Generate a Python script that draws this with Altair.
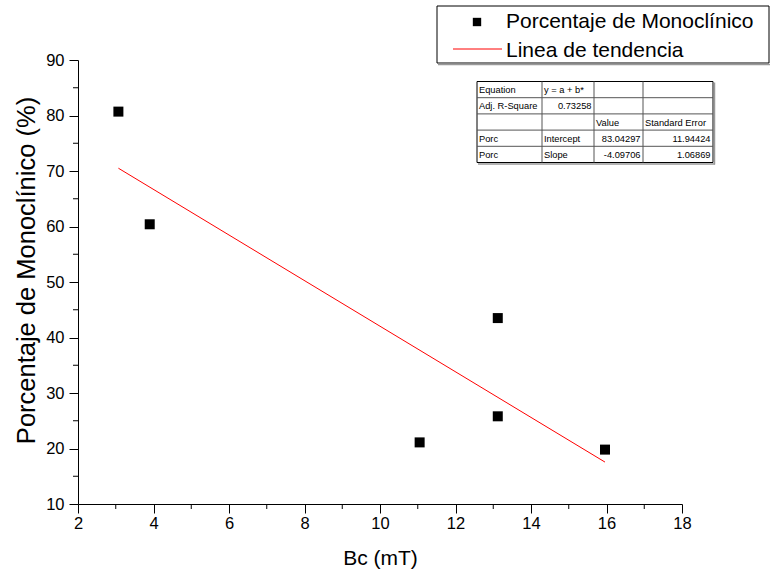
import altair as alt
import pandas as pd

# ---------------- data ----------------
bc_mT = [3.07, 3.90, 11.05, 13.12, 13.12, 15.96]
porc_mono = [80.7, 60.4, 21.1, 43.5, 25.8, 19.8]

x_major = [2, 4, 6, 8, 10, 12, 14, 16, 18]
x_minor = [3, 5, 7, 9, 11, 13, 15, 17]
y_major = [10, 20, 30, 40, 50, 60, 70, 80, 90]
y_minor = [15, 25, 35, 45, 55, 65, 75, 85]

legend_labels = ["Porcentaje de Monoclínico", "Linea de tendencia"]

table_cells = [
    ["Equation", "y = a + b*", "", ""],
    ["Adj. R-Square", "0.73258", "", ""],
    ["", "", "Value", "Standard Error"],
    ["Porc", "Intercept", "83.04297", "11.94424"],
    ["Porc", "Slope", "-4.09706", "1.06869"],
]

# ---------------- layout ----------------
FONT = "Liberation Sans"
OX, OY = 78, 60          # plot origin on the page
W, H = 604, 444          # plot size

def px(v):
    return v - OX

def py(v):
    return v - OY

df = pd.DataFrame({"bc": bc_mT, "porc": porc_mono})

xscale = alt.Scale(domain=[2, 18], nice=False, zero=False)
yscale = alt.Scale(domain=[10, 90], nice=False, zero=False)

xaxis = alt.Axis(
    values=x_major, tickSize=9, tickColor="black", domainColor="black",
    labelColor="black", labelFontSize=16.5, labelFont=FONT, labelPadding=2,
    grid=False, title="Bc (mT)", titleFont=FONT, titleFontSize=21,
    titleFontWeight="normal", titleColor="black", titleBaseline="alphabetic",
    titleY=60, titleX=W / 2, titleAlign="center", labelFlush=False)
yaxis = alt.Axis(
    values=y_major, tickSize=9, tickColor="black", domainColor="black",
    labelColor="black", labelFontSize=16.5, labelFont=FONT, labelPadding=5,
    grid=False, title="Porcentaje de Monoclínico (%)", titleFont=FONT,
    titleFontSize=25.5, titleFontWeight="normal", titleColor="black",
    titleBaseline="alphabetic", titleX=-44, titleY=210, titleAngle=-90,
    titleAlign="center", labelFlush=False)

X = alt.X("bc:Q", scale=xscale, axis=xaxis)
Y = alt.Y("porc:Q", scale=yscale, axis=yaxis)

points = alt.Chart(df).mark_point(
    shape="square", filled=True, size=100, color="black", opacity=1
).encode(x=X, y=Y)

trend = alt.Chart(df).transform_regression("bc", "porc").mark_line(
    color="#ff0000", strokeWidth=1
).encode(x=X, y=Y)

xminor = alt.Chart(pd.DataFrame({"bc": x_minor})).mark_rule(color="black", strokeWidth=1).encode(
    x=X, y=alt.value(H), y2=alt.value(H + 5),
)
yminor = alt.Chart(pd.DataFrame({"porc": y_minor})).mark_rule(color="black", strokeWidth=1).encode(
    y=Y, x=alt.value(-5), x2=alt.value(0),
)

# ---------------- legend ----------------
LB = dict(x0=437, x1=769, y0=6, y1=63)
one = pd.DataFrame({"a": [0]})
legend_box = alt.Chart(one).mark_rect(
    fill="white", stroke="black", strokeWidth=1
).encode(
    x=alt.value(px(LB["x0"])), x2=alt.value(px(LB["x1"])),
    y=alt.value(py(LB["y0"])), y2=alt.value(py(LB["y1"])),
)
legend_shadow = alt.Chart(one).mark_rule(
    color="#999999", strokeWidth=1.5
).encode(
    x=alt.value(px(LB["x0"] + 1)), x2=alt.value(px(LB["x1"] + 2)),
    y=alt.value(py(LB["y1"] + 1.5)),
)
legend_sq = alt.Chart(one).mark_point(
    shape="square", filled=True, size=70, color="black", opacity=1
).encode(x=alt.value(px(477)), y=alt.value(py(22)))
legend_ln = alt.Chart(one).mark_rule(
    color="#ff0000", strokeWidth=1
).encode(x=alt.value(px(453)), x2=alt.value(px(502)), y=alt.value(py(49)))
legend_txt = alt.Chart(pd.DataFrame({
    "t": legend_labels,
    "xp": [px(506), px(506)],
    "yp": [py(28.3), py(56.7)],
})).mark_text(
    align="left", baseline="alphabetic", font=FONT, fontSize=21, color="black"
).encode(
    x=alt.X("xp:Q", scale=None), y=alt.Y("yp:Q", scale=None), text="t:N"
)

# ---------------- table ----------------
col_edges = [477, 542, 594, 643, 713]
row_edges = [81.5, 97.7, 113.9, 130.1, 146.3, 162.5]

def is_num(s):
    try:
        float(s)
        return True
    except ValueError:
        return False

cells = []
for r, row in enumerate(table_cells):
    for c, t in enumerate(row):
        if not t:
            continue
        right = is_num(t)
        xx = col_edges[c + 1] - 2.5 if right else col_edges[c] + 2
        yy = (row_edges[r] + row_edges[r + 1]) / 2 + 0.5
        cells.append({"t": t, "xp": px(xx), "yp": py(yy),
                      "al": "right" if right else "left"})
cells_df = pd.DataFrame(cells)

table_bg = alt.Chart(one).mark_rect(
    fill="white", stroke="black", strokeWidth=1
).encode(
    x=alt.value(px(col_edges[0])), x2=alt.value(px(col_edges[-1])),
    y=alt.value(py(row_edges[0])), y2=alt.value(py(row_edges[-1])),
)

vlines = pd.DataFrame({
    "x": [px(v) for v in col_edges[1:-1]],
    "y1": [py(row_edges[0])] * 3,
    "y2": [py(row_edges[-1])] * 3,
})
hlines = pd.DataFrame({
    "y": [py(v) for v in row_edges[1:-1]],
    "x1": [px(col_edges[0])] * 4,
    "x2": [px(col_edges[-1])] * 4,
})
table_v = alt.Chart(vlines).mark_rule(color="#555555", strokeWidth=1).encode(
    x=alt.X("x:Q", scale=None), y=alt.Y("y1:Q", scale=None), y2="y2:Q")
table_h = alt.Chart(hlines).mark_rule(color="#555555", strokeWidth=1).encode(
    y=alt.Y("y:Q", scale=None), x=alt.X("x1:Q", scale=None), x2="x2:Q")
table_shadow_r = alt.Chart(one).mark_rule(
    color="#999999", strokeWidth=1.5
).encode(x=alt.value(px(col_edges[-1] + 1.5)),
         y=alt.value(py(row_edges[0] + 1)), y2=alt.value(py(row_edges[-1] + 2)))
table_shadow_b = alt.Chart(one).mark_rule(
    color="#999999", strokeWidth=1.5
).encode(y=alt.value(py(row_edges[-1] + 1.5)),
         x=alt.value(px(col_edges[0] + 1)), x2=alt.value(px(col_edges[-1] + 2)))

table_txt_l = alt.Chart(cells_df[cells_df.al == "left"]).mark_text(
    align="left", baseline="middle", font=FONT, fontSize=9.3, color="black"
).encode(x=alt.X("xp:Q", scale=None), y=alt.Y("yp:Q", scale=None), text="t:N")
table_txt_r = alt.Chart(cells_df[cells_df.al == "right"]).mark_text(
    align="right", baseline="middle", font=FONT, fontSize=9.3, color="black"
).encode(x=alt.X("xp:Q", scale=None), y=alt.Y("yp:Q", scale=None), text="t:N")

chart = alt.layer(
    points, trend, xminor, yminor,
    legend_box, legend_shadow, legend_sq, legend_ln, legend_txt,
    table_bg, table_v, table_h, table_shadow_r, table_shadow_b,
    table_txt_l, table_txt_r,
).properties(
    width=W, height=H,
    autosize=alt.AutoSizeParams(type="none"),
    padding={"left": OX, "top": OY, "right": 770 - OX - W, "bottom": 573 - OY - H},
    background="white",
).configure_view(stroke=None)

chart.save("out.html", embed_options={"renderer": "svg", "actions": False})
